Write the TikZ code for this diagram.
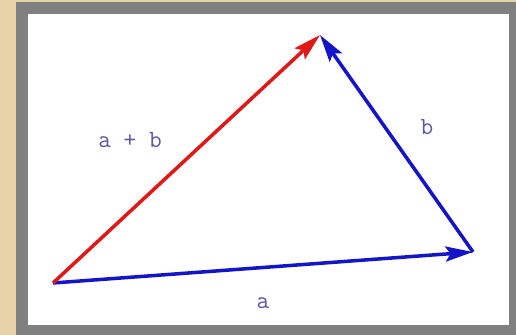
\documentclass[tikz,border=0pt]{standalone}
\usepackage{fontspec}
\usetikzlibrary{arrows.meta}
\definecolor{parchment}{HTML}{E6D3A8}
\definecolor{framegray}{HTML}{808080}
\definecolor{vecblue}{HTML}{1414C8}
\definecolor{vecred}{HTML}{E01818}
\definecolor{labelblue}{HTML}{5858A8}
\tikzset{
  vec/.style   = {line width=2pt, -{Stealth[length=5.5mm, width=3mm, inset=1mm]}},
  veclabel/.style = {font=\ttfamily\fontsize{14}{16}\selectfont, text=labelblue}
}
\begin{document}
\begin{tikzpicture}
    % background and frame
    \fill[parchment] (0,0) rectangle (10.32,6.70);
    \fill[framegray] (0.32,0) rectangle (10.32,6.66);
    \fill[white] (0.56,0.20) rectangle (10.18,6.42);
    \useasboundingbox (0,0) rectangle (10.32,6.70);

    \coordinate (O) at (1.06,1.04);
    \coordinate (A) at (6.40,6.00);
    \coordinate (B) at (9.46,1.66);

    % vectors
    \draw[vec, vecblue] (O) -- (B);
    \draw[vec, vecblue] (B) -- (A);
    \draw[vec, vecred] (O) -- (A);

    \node[veclabel] (labsum) at (2.60,3.90) {a + b};
    \node[veclabel] (labb) at (8.54,4.16) {b};
    \node[veclabel] (laba) at (5.26,0.64) {a};
\end{tikzpicture}
\end{document}
